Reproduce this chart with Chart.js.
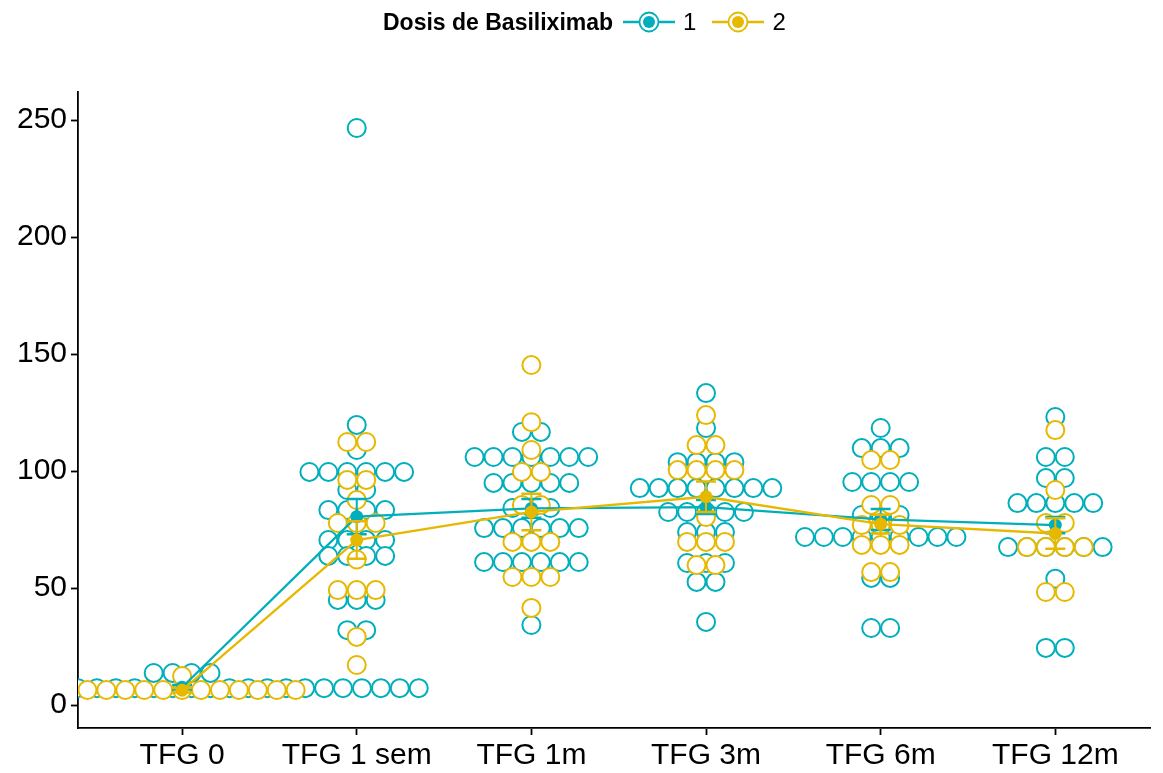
<!DOCTYPE html>
<html>
<head>
<meta charset="utf-8">
<script src="https://cdn.jsdelivr.net/npm/chart.js@4.4.1/dist/chart.umd.min.js"></script>
<style>
	body { margin: 0; background: #fff; }
	#wrap { position: relative; width: 1163px; height: 773px; }
	#legend { position: absolute; top: 7px; left: 383px; height: 30px; display: flex; align-items: center;
		font-family: "Liberation Sans", Arial, sans-serif; color: #000; white-space: nowrap; }
	#legend .ttl { font-weight: bold; font-size: 23px; margin-right: 8px; }
	#legend .lab { font-size: 24px; margin: 0 14px 0 6px; }
</style>
</head>
<body>
<div id="wrap">
	<canvas id="myChart" width="1163" height="773"></canvas>
	<div id="legend"></div>
</div>
<script>
// eje x (categorias) y ticks del eje y
const categories = ['TFG 0', 'TFG 1 sem', 'TFG 1m', 'TFG 3m', 'TFG 6m', 'TFG 12m'];
const yTicks = [0, 50, 100, 150, 200, 250];
const groups = ['1', '2'];
const colors = ['#00AFBB', '#E7B800'];

// puntos del dotplot: [valor, cantidad de puntos en ese bin] por categoria
const dots1 = [
	[[7.2, 26], [13.7, 4]],
	[[246.6, 1], [119.7, 1], [109, 1], [99.6, 6], [91.9, 2], [83.3, 4], [70.5, 4], [63.7, 4], [44.9, 3], [32, 2]],
	[[116.7, 2], [106, 7], [94.9, 5], [84.2, 3], [75.6, 6], [61.1, 6], [34.2, 1]],
	[[133.3, 1], [118.4, 1], [103.8, 4], [92.7, 8], [82.5, 5], [73.9, 3], [60.7, 3], [52.6, 2], [35.5, 1]],
	[[118.4, 1], [109.8, 3], [95.3, 4], [81.2, 3], [71.8, 9], [54.3, 2], [32.9, 2]],
	[[123.1, 1], [106, 2], [97, 2], [86.3, 5], [67.5, 6], [54, 1], [24.4, 2]]
];
const dots2 = [
	[[6.4, 13], [12.4, 1]],
	[[112.4, 2], [96.2, 2], [87.6, 1], [77.8, 3], [62.2, 1], [49.1, 3], [29.1, 1], [17.1, 1]],
	[[145.3, 1], [120.9, 1], [109, 1], [99.6, 2], [85.5, 2], [69.7, 3], [54.7, 3], [41.5, 1]],
	[[123.9, 1], [111.1, 2], [100.4, 4], [80.3, 1], [69.7, 3], [59.8, 2]],
	[[104.7, 2], [85.5, 2], [76.9, 3], [68.4, 3], [56.8, 2]],
	[[117.5, 1], [91.9, 1], [77.8, 2], [67.5, 4], [48.3, 2]]
];

// media y error estandar por grupo
const mean1 = [7.6, 80.5, 84, 84.6, 79.3, 76.9];
const se1 = [1, 7.5, 4, 3, 4.5, 3.5];
const mean2 = [6.3, 70.5, 82.5, 89, 77.3, 73.3];
const se2 = [1, 8, 7.8, 6.5, 4, 6.5];

const dotStep = 0.1084; // ancho de un punto en unidades de categoria

// apila los puntos de cada bin centrados en la categoria
function dotPoints(allBins) {
	let pts = [];
	allBins.forEach(function(bins, i) {
		bins.forEach(function(b) {
			let v = b[0], n = b[1];
			for (let k = 0; k < n; k++) {
				pts.push({ x: i + (k - (n - 1) / 2) * dotStep, y: v });
			}
		});
	});
	return pts;
}

function meanPoints(m) {
	return m.map(function(v, i) { return { x: i, y: v }; });
}

// barras de error: inferior, superior, hueco
function errPoints(m, se) {
	let pts = [];
	m.forEach(function(v, i) {
		pts.push({ x: i, y: v - se[i] });
		pts.push({ x: i, y: v + se[i] });
		pts.push({ x: i, y: null });
	});
	return pts;
}

const ctx = document.getElementById('myChart').getContext('2d');
const myChart = new Chart(ctx, {
	type: 'scatter',
	data: {
		datasets: [
			{ label: '2 media', data: meanPoints(mean2), showLine: true, borderColor: colors[1], borderWidth: 2.3,
				pointRadius: 6.5, pointBackgroundColor: colors[1], pointBorderWidth: 0, order: 0 },
			{ label: '2 se', data: errPoints(mean2, se2), showLine: true, spanGaps: false, borderColor: colors[1], borderWidth: 2,
				pointStyle: 'line', pointRadius: 10, pointBorderColor: colors[1], pointBorderWidth: 2.5, order: 1 },
			{ label: '1 media', data: meanPoints(mean1), showLine: true, borderColor: colors[0], borderWidth: 2.3,
				pointRadius: 6.5, pointBackgroundColor: colors[0], pointBorderWidth: 0, order: 2 },
			{ label: '1 se', data: errPoints(mean1, se1), showLine: true, spanGaps: false, borderColor: colors[0], borderWidth: 2,
				pointStyle: 'line', pointRadius: 10, pointBorderColor: colors[0], pointBorderWidth: 2.5, order: 3 },
			{ label: '2', data: dotPoints(dots2), pointRadius: 9, pointBorderWidth: 2,
				pointBorderColor: colors[1], pointBackgroundColor: '#fff', clip: 0, order: 4 },
			{ label: '1', data: dotPoints(dots1), pointRadius: 9, pointBorderWidth: 2,
				pointBorderColor: colors[0], pointBackgroundColor: '#fff', clip: 0, order: 5 }
		]
	},
	options: {
		responsive: false,
		animation: false,
		devicePixelRatio: 1,
		layout: { padding: { top: 92, right: 3, left: 0, bottom: 0 } },
		plugins: { legend: { display: false }, tooltip: { enabled: false } },
		scales: {
			x: {
				type: 'linear',
				min: -0.596,
				max: 5.545,
				afterFit: function(scale) { scale.height = 45; },
				afterBuildTicks: function(scale) {
					scale.ticks = categories.map(function(c, i) { return { value: i }; });
				},
				ticks: {
					color: '#000', padding: 3, maxRotation: 0, autoSkip: false,
					font: { family: 'Liberation Sans', size: 30 },
					callback: function(v) { return categories[v]; }
				},
				grid: { display: true, drawOnChartArea: false, tickLength: 7, color: '#000', tickWidth: 1.8 },
				border: { display: true, color: '#000', width: 1.8 }
			},
			y: {
				min: -9.83,
				max: 262,
				afterFit: function(scale) { scale.width = 78; },
				afterBuildTicks: function(scale) {
					scale.ticks = yTicks.map(function(v) { return { value: v }; });
				},
				ticks: { color: '#000', padding: 4, font: { family: 'Liberation Sans', size: 30 } },
				grid: { display: true, drawOnChartArea: false, tickLength: 7, color: '#000', tickWidth: 1.8 },
				border: { display: true, color: '#000', width: 1.8 }
			}
		}
	}
}); // new Chart

// leyenda arriba
function keySvg(col) {
	return '<svg width="56" height="26"><line x1="2" y1="13" x2="54" y2="13" stroke="' + col + '" stroke-width="2.3"/>' +
		'<circle cx="28" cy="13" r="9.5" fill="#fff" stroke="' + col + '" stroke-width="1.8"/>' +
		'<circle cx="28" cy="13" r="6" fill="' + col + '"/></svg>';
}
let html = '<span class="ttl">Dosis de Basiliximab</span>';
groups.forEach(function(g, i) {
	html += keySvg(colors[i]) + '<span class="lab">' + g + '</span>';
});
document.getElementById('legend').innerHTML = html;
</script>
</body>
</html>
